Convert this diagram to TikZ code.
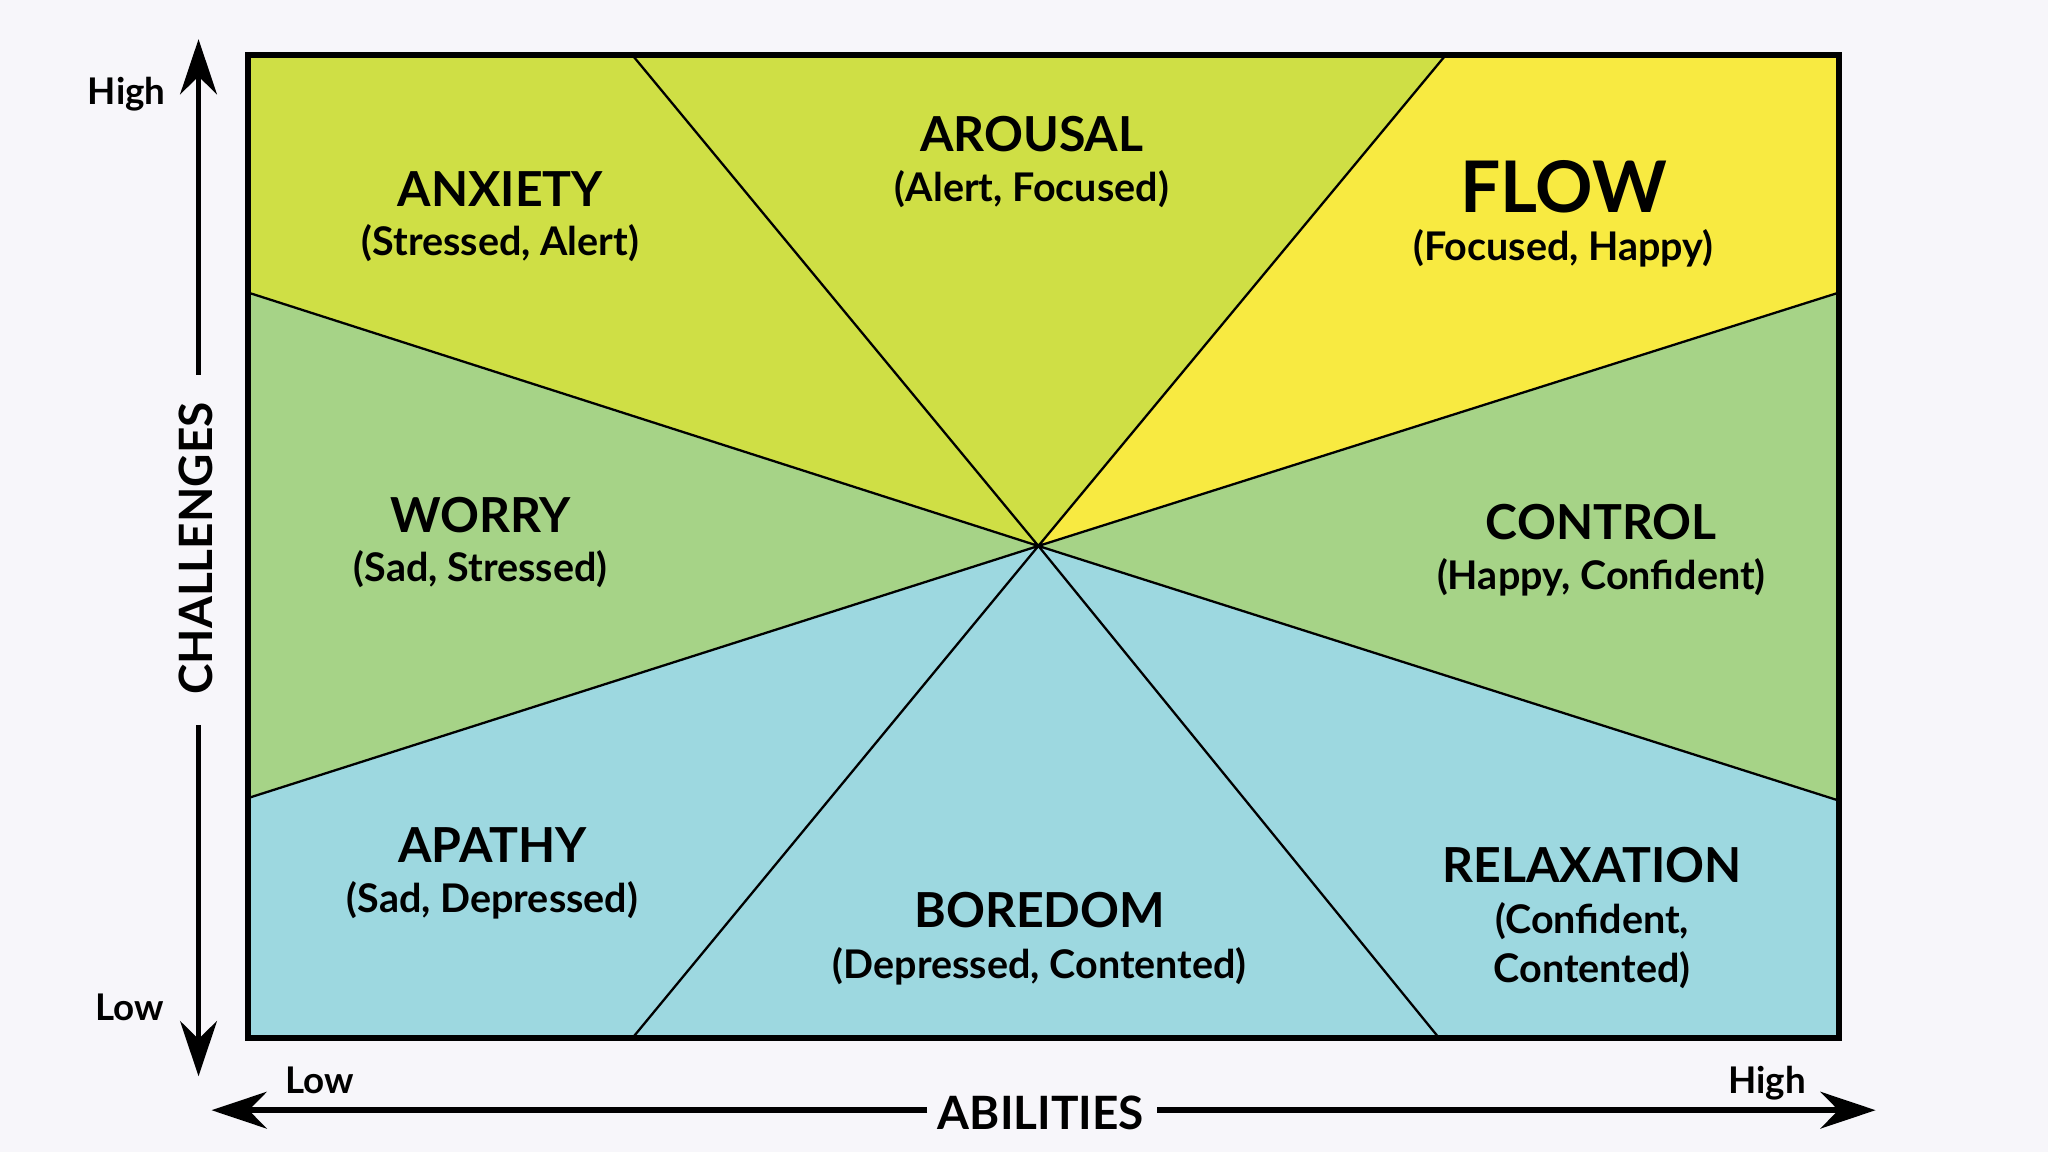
\documentclass[tikz,border=0pt]{standalone}
\usepackage{fontspec}
\setmainfont{Lato}
\usetikzlibrary{arrows.meta}
\definecolor{lime}{HTML}{CFDF45}
\definecolor{flowy}{HTML}{F8EA41}
\definecolor{grn}{HTML}{A6D387}
\definecolor{blu}{HTML}{9DD8E0}
\definecolor{bg}{HTML}{F7F6FA}
\tikzset{
 ttl/.style={font=\fontsize{10.5}{12}\selectfont\bfseries, align=center},
 sub/.style={font=\fontsize{8.6}{10.5}\selectfont\bfseries, align=center},
 axl/.style={font=\fontsize{8}{9}\selectfont\bfseries},
 ax/.style={line width=1.2pt, -{Stealth[length=12pt,width=8pt]}},
 sep/.style={line width=0.5pt}
}
\begin{document}
\begin{tikzpicture}[x=0.01cm,y=-0.01cm]
\fill[bg] (0,0) rectangle (1568,882);
\useasboundingbox (0,0) rectangle (1568,882);
\coordinate (C) at (795,418);
\coordinate (TL) at (190,42); \coordinate (TR) at (1408,42);
\coordinate (BL) at (190,795); \coordinate (BR) at (1408,795);
\coordinate (t1) at (484,42); \coordinate (t2) at (1107,42);
\coordinate (l1) at (190,224); \coordinate (l2) at (190,611);
\coordinate (r1) at (1408,224); \coordinate (r2) at (1408,613);
\coordinate (b1) at (484,795); \coordinate (b2) at (1102,795);
\fill[lime] (TL)--(t2)--(C)--(l1)--cycle;
\fill[flowy] (t2)--(TR)--(r1)--(C)--cycle;
\fill[grn] (l1)--(C)--(l2)--cycle;
\fill[grn] (r1)--(C)--(r2)--cycle;
\fill[blu] (l2)--(C)--(r2)--(BR)--(BL)--cycle;
\draw[sep] (C)--(t1) (C)--(t2) (C)--(l1) (C)--(l2) (C)--(r1) (C)--(r2) (C)--(b1) (C)--(b2);
\draw[line width=1.3pt] (TL) rectangle (BR);
\node[ttl] (anx) at (383,145) {ANXIETY};
\node[sub] (anxs) at (383,186) {(Stressed, Alert)};
\node[ttl] (aro) at (790,103) {AROUSAL};
\node[sub] (aros) at (790,145) {(Alert, Focused)};
\node[font=\fontsize{15.5}{17}\selectfont\bfseries] (flo) at (1197,143) {FLOW};
\node[sub] (flos) at (1197,190) {(Focused, Happy)};
\node[ttl] (wor) at (368,394) {WORRY};
\node[sub] (wors) at (368,436) {(Sad, Stressed)};
\node[ttl] (con) at (1226,400) {CONTROL};
\node[sub] (cons) at (1226,442) {(Happy, Confident)};
\node[ttl] (apa) at (377,647) {APATHY};
\node[sub] (apas) at (377,689) {(Sad, Depressed)};
\node[ttl] (bor) at (796,697) {BOREDOM};
\node[sub] (bors) at (796,740) {(Depressed, Contented)};
\node[ttl] (rel) at (1219,662) {RELAXATION};
\node[sub] (rels) at (1219,724) {(Confident,\\Contented)};
% axes
\node[axl, rotate=90] (ch) at (150,420) {\fontsize{10}{12}\selectfont CHALLENGES};
\node[axl] (ab) at (797,852) {\fontsize{10}{12}\selectfont ABILITIES};
\coordinate (vt) at (152,30); \coordinate (vb) at (152,824);
\coordinate (hl) at (162,850); \coordinate (hr) at (1436,850);
\draw[ax] (152,287) -- (vt);
\draw[ax] (152,555) -- (vb);
\draw[ax] (710,850) -- (hl);
\draw[ax] (886,850) -- (hr);
\node[axl] (vh) at (97,72) {High};
\node[axl] (vl) at (99,771) {Low};
\node[axl] (hlo) at (245,827) {Low};
\node[axl] (hhi) at (1353,829) {High};
\end{tikzpicture}
\end{document}
